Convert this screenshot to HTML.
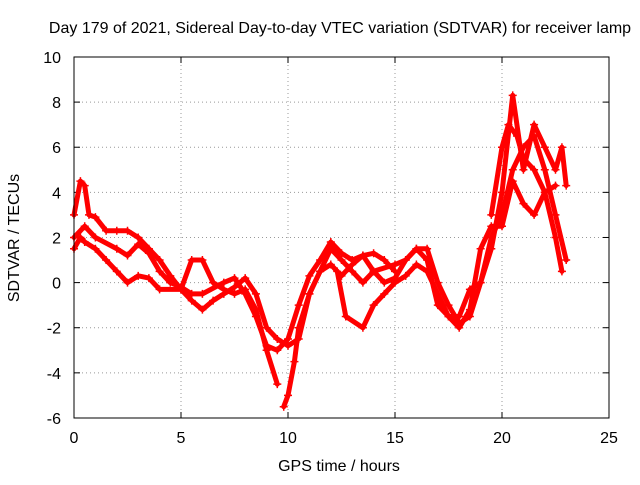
<!DOCTYPE html>
<html><head><meta charset="utf-8"><style>
body{margin:0;background:#fff;}
svg text{font-family:"Liberation Sans",sans-serif;font-size:16px;fill:#000;}
</style></head><body>
<svg id="chart" width="640" height="480">
<text x="340" y="33" text-anchor="middle">Day 179 of 2021, Sidereal Day-to-day VTEC variation (SDTVAR) for receiver lamp</text>
<text x="339" y="471" text-anchor="middle">GPS time / hours</text>
<text transform="translate(19,238) rotate(-90)" text-anchor="middle">SDTVAR / TECUs</text>
<g id="grid"></g><g id="series"></g>
<rect x="74" y="57" width="535" height="361" fill="none" stroke="#000" stroke-width="1"/>
</svg>
<script>
const xTicks=[0,5,10,15,20,25];
const yTicks=[-6,-4,-2,0,2,4,6,8,10];
const s1=[[0,1.5],[0.3,2],[0.5,1.8],[1,1.5],[1.5,1.0],[2,0.5],[2.5,0],[3,0.3],[3.5,0.2],[4,-0.3],[5,-0.3],[5.5,-0.8],[6,-1.2],[6.5,-0.8],[7,-0.5],[7.5,-0.2],[8,0.2],[8.5,-0.5],[9,-2],[9.5,-2.5],[10,-2.8],[10.5,-2.5],[11,-0.5],[11.5,0.5],[12,1.5],[12.5,1.0],[13,0.5],[13.5,0],[14,0.5],[15,0.8],[15.5,1],[16,1.5],[16.5,1.5],[17,0],[17.5,-1],[18,-1.8],[18.5,-1.5],[19,0],[19.5,2],[20,3],[20.5,5],[21,6],[21.5,6.5],[22,5],[22.5,3],[23,1]];
const s2=[[0,3],[0.3,4.5],[0.5,4.3],[0.7,3],[1,2.9],[1.5,2.3],[2,2.3],[2.5,2.3],[3,2],[3.5,1.5],[4,1],[4.5,0.3],[5,-0.3],[5.5,1],[6,1],[6.5,0],[7,-0.3],[7.5,-0.5],[8,-0.3],[8.5,-1.2],[9,-3],[9.5,-4.5]];
const s3=[[0,2],[0.5,2.5],[1,2],[2,1.5],[2.5,1.2],[3,1.7],[3.5,1.3],[4,0.5],[4.5,0],[5,-0.2],[5.5,-0.5],[6,-0.5],[7,0],[7.5,0.2],[8,-0.5],[8.5,-1.5],[9,-2.8],[9.5,-3],[10,-2.5],[10.5,-1],[11,0.3],[11.5,1],[12,1.8],[12.5,1.3],[13,1],[13.5,1.2],[14,0.5],[14.5,0],[15,0.2],[15.5,1],[16,1.5],[16.5,1],[17,-1],[17.5,-1.5],[18,-2],[18.5,-1.2],[19,1.5],[19.5,2.5],[20,2.5],[20.5,4.5],[21,3.5],[21.5,3],[22,4],[22.5,4.3]];
const s4=[[9.8,-5.5],[10,-5],[10.3,-3.5],[10.5,-2],[11,-0.5],[11.5,0.5],[12,0.8],[12.5,0.3],[13,0.8],[13.5,1.2],[14,1.3],[14.5,1],[15,0.5]];
const s5=[[12.3,0.5],[12.7,-1.5],[13.5,-2],[14,-1],[14.5,-0.5],[15,0],[15.5,0.3],[16,0.8],[16.5,0.5],[17,-0.5],[17.5,-1.5],[18,-1.5],[18.5,-0.3],[19,0],[19.5,1.5],[20,4],[20.5,8.3],[21,5],[21.5,7],[22,6],[22.5,5],[22.8,6],[23,4.3]];
const s6=[[19.5,3],[20,6],[20.3,7],[20.7,6.5],[21,5.5],[21.5,5],[22,4],[22.5,2],[22.8,0.5]];
const allSeries=[s1,s2,s3,s4,s5,s6];
const X=t=>74+t*535/25, Y=v=>282.6-v*361/16;
const NS="http://www.w3.org/2000/svg";
const g=document.getElementById('grid'), sg=document.getElementById('series');
function mk(tag,attrs,parent){const e=document.createElementNS(NS,tag);for(const k in attrs)e.setAttribute(k,attrs[k]);parent.appendChild(e);return e;}
xTicks.forEach(t=>{
 const x=X(t);
 if(t>0&&t<25){const l=mk('line',{x1:x,x2:x,y1:57,y2:418,stroke:'#999','stroke-dasharray':'1,3'},g);
 
 }
 mk('line',{x1:x,x2:x,y1:418,y2:412,stroke:'#000'},g);
 mk('line',{x1:x,x2:x,y1:57,y2:63,stroke:'#000'},g);
 const tx=mk('text',{x:x,y:443,'text-anchor':'middle'},g);tx.textContent=t;
 
 
});
yTicks.forEach(v=>{
 const y=Y(v);
 if(v>-6&&v<10){const l=mk('line',{x1:74,x2:609,y1:y,y2:y,stroke:'#999','stroke-dasharray':'1,3'},g);
 
 }
 mk('line',{x1:74,x2:80,y1:y,y2:y,stroke:'#000'},g);
 mk('line',{x1:609,x2:603,y1:y,y2:y,stroke:'#000'},g);
 const tx=mk('text',{x:61,y:y+6,'text-anchor':'end'},g);tx.textContent=v;
 
 
});
allSeries.forEach((s,i)=>{
 const p=mk('polyline',{points:s.map(d=>X(d[0])+','+Y(d[1])).join(' '),fill:'none',stroke:'#f00','stroke-width':5,'stroke-linejoin':'round','stroke-linecap':'round'},sg);
 
 
 s.forEach(d=>{
  const x=X(d[0]),y=Y(d[1]);
  const m=mk('path',{d:`M${x-4},${y}h8M${x},${y-4}v8`,stroke:'#f00','stroke-width':1.5},sg);
  
  
 });
});
</script>
</body></html>
